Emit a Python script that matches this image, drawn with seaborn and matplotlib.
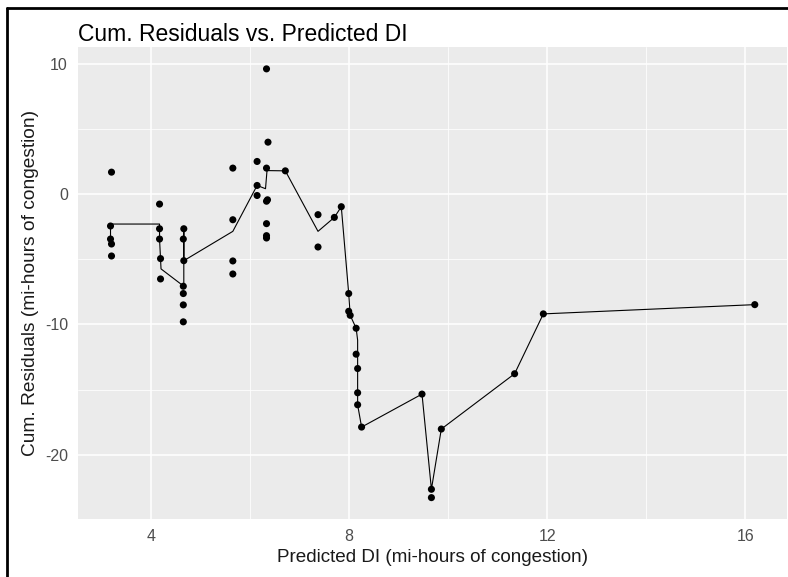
import numpy as np
import pandas as pd
import matplotlib
matplotlib.use('Agg')
import matplotlib.pyplot as plt
from matplotlib.lines import Line2D
import seaborn as sns

# pontos (residuos acumulados por DI previsto)
pred_di = [3.20, 3.18, 3.18, 3.20, 3.20,
           4.17, 4.17, 4.17, 4.19, 4.19,
           4.66, 4.65, 4.66, 4.65, 4.65, 4.65, 4.65,
           5.65, 5.65, 5.65, 5.65,
           6.14, 6.14, 6.14,
           6.33, 6.36, 6.33, 6.35, 6.33, 6.33, 6.33, 6.33,
           6.71, 7.37, 7.37, 7.70, 7.84,
           7.99, 7.99, 8.02, 8.14, 8.14, 8.17, 8.17, 8.17, 8.25,
           9.47, 9.66, 9.66, 9.86, 11.34, 11.92, 16.19]
cum_resid = [1.68, -2.45, -3.45, -3.83, -4.75,
             -0.77, -2.66, -3.45, -4.95, -6.51,
             -2.66, -3.45, -5.11, -7.07, -7.63, -8.50, -9.80,
             1.99, -1.97, -5.13, -6.13,
             2.50, 0.66, -0.11,
             9.60, 3.98, 1.99, -0.44, -0.55, -2.27, -3.19, -3.37,
             1.78, -1.58, -4.06, -1.79, -0.97,
             -7.63, -8.99, -9.30, -10.29, -12.28, -13.38, -15.24, -16.16, -17.87,
             -15.34, -22.64, -23.28, -18.02, -13.78, -9.19, -8.48]

# linha (ordem dos vertices)
line_x = [3.18, 3.18, 4.17, 4.17, 4.20, 4.66, 4.66, 4.66, 5.65, 6.14, 6.31,
          6.34, 6.71, 7.37, 7.70, 7.84, 7.99, 8.02, 8.14, 8.17, 8.17, 8.25,
          9.47, 9.66, 9.86, 11.34, 11.92, 16.19]
line_y = [-3.45, -2.30, -2.30, -3.45, -5.74, -7.07, -2.66, -5.11, -2.86, 0.66, 0.41,
          1.80, 1.78, -2.86, -1.79, -0.97, -7.63, -9.30, -10.29, -11.20, -16.16, -17.87,
          -15.34, -22.64, -18.02, -13.78, -9.19, -8.48]

pts = pd.DataFrame({'x': pred_di, 'y': cum_resid})
ln = pd.DataFrame({'x': line_x, 'y': line_y})

sns.set_theme(style='darkgrid', rc={'axes.facecolor': '#EBEBEB', 'grid.color': 'white'})
plt.rcParams['font.family'] = ['Liberation Sans', 'DejaVu Sans']
plt.rcParams['axes.unicode_minus'] = False

fig = plt.figure(figsize=(7.88, 5.77), dpi=100)
ax = fig.add_axes([0.0994, 0.1005, 0.8993, 0.8172])

sns.lineplot(data=ln, x='x', y='y', sort=False, estimator=None, color='black',
             linewidth=0.8, ax=ax)
sns.scatterplot(data=pts, x='x', y='y', color='black', s=26, edgecolor='none', ax=ax)

ax.set_xlim(2.53, 16.84)
ax.set_ylim(-24.92, 11.24)
ax.set_xticks([4, 8, 12, 16])
ax.set_yticks([10, 0, -10, -20])
ax.set_xticks([6, 10, 14], minor=True)
ax.set_yticks([5, -5, -15], minor=True)
ax.grid(which='major', color='white', linewidth=1.1)
ax.grid(which='minor', color='white', linewidth=0.55)
for s in ax.spines.values():
    s.set_visible(False)
ax.tick_params(axis='both', which='major', length=3.5, width=0.8, color='#333333',
               labelcolor='#4D4D4D', labelsize=11.5, pad=4)
ax.tick_params(axis='both', which='minor', length=0)

ax.set_xlabel('Predicted DI (mi-hours of congestion)', fontsize=13.6, color='#1a1a1a', labelpad=3)
ax.set_ylabel('Cum. Residuals (mi-hours of congestion)', fontsize=13.8, color='#1a1a1a', labelpad=4)
ax.set_title('Cum. Residuals vs. Predicted DI', loc='left', fontsize=16.5, color='black', pad=5)

# moldura da captura de tela
fig.add_artist(Line2D([0.009, 0.009], [0, 0.986], transform=fig.transFigure, color='black', linewidth=2))
fig.add_artist(Line2D([0.009, 1.0], [0.986, 0.986], transform=fig.transFigure, color='black', linewidth=2))

fig.savefig('out.png', dpi=100)
